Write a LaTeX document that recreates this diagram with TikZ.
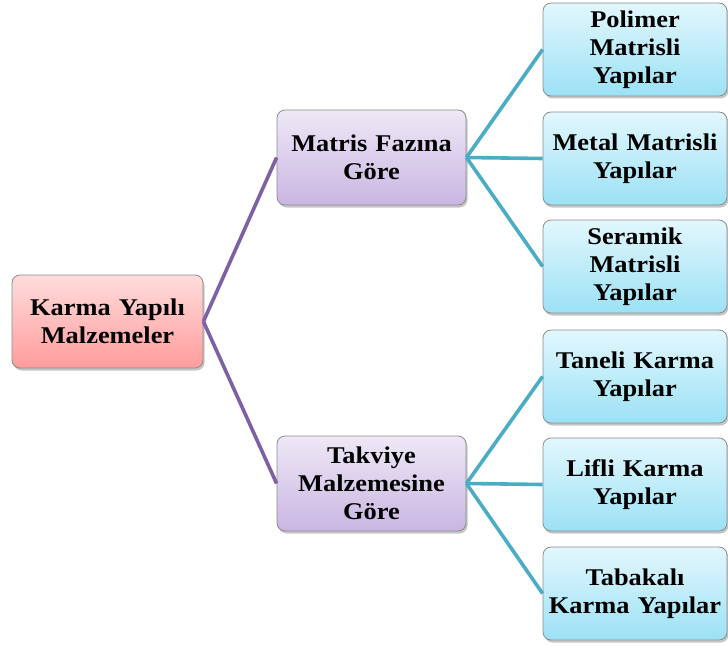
\documentclass[tikz,border=0pt]{standalone}
\usepackage{fontspec}
\setmainfont{Liberation Serif}
\newfontfamily\boxfont[FakeStretch=1.1,WordSpace=0.75]{Liberation Serif}
\usetikzlibrary{shadows}
\definecolor{pinkT}{HTML}{FFDCDC}
\definecolor{pinkB}{HTML}{FF9C9C}
\definecolor{lavT}{HTML}{EEE8F6}
\definecolor{lavB}{HTML}{C9B6E2}
\definecolor{cyT}{HTML}{E2F7FD}
\definecolor{cyB}{HTML}{9CE1F5}
\definecolor{purpleLine}{HTML}{7D61A3}
\definecolor{tealLine}{HTML}{4BACC6}
\definecolor{boxEdge}{HTML}{8C8C8C}
\tikzset{
  box/.style={draw=boxEdge, line width=0.8pt, rounded corners=8pt, align=center,
    font=\boxfont\bfseries\fontsize{24}{28}\selectfont, inner sep=0pt,
    drop shadow={shadow xshift=1.5pt, shadow yshift=-2.5pt, fill=black!45, opacity=0.5}},
  rootbox/.style={box, top color=pinkT, bottom color=pinkB, minimum width=191pt, minimum height=93pt, text width=189pt},
  midbox/.style={box, top color=lavT, bottom color=lavB, minimum width=189pt, minimum height=95pt, text width=187pt},
  leafbox/.style={box, top color=cyT, bottom color=cyB, minimum width=184pt, minimum height=93pt, text width=182pt},
  plink/.style={draw=purpleLine, line width=3.6pt},
  tlink/.style={draw=tealLine, line width=3.6pt}
}
\begin{document}
\begin{tikzpicture}[x=1pt,y=-1pt]
\useasboundingbox (0,0) rectangle (728,650);
\node[rootbox] (root) at (107.5,321.5) {Karma Yapılı\\Malzemeler};
\node[midbox] (m1) at (371.5,157.5) {Matris Fazına\\Göre};
\node[midbox] (m2) at (371.5,483.5) {Takviye\\Malzemesine\\Göre};
\node[leafbox] (l1) at (635,49.5) {Polimer\\Matrisli\\Yapılar};
\node[leafbox] (l2) at (635,158.5) {Metal Matrisli\\Yapılar};
\node[leafbox] (l3) at (635,266.5) {Seramik\\Matrisli\\Yapılar};
\node[leafbox] (l4) at (635,376.5) {Taneli Karma\\Yapılar};
\node[leafbox] (l5) at (635,484.5) {Lifli Karma\\Yapılar};
\node[leafbox] (l6) at (635,593.5) {Tabakalı\\Karma Yapılar};
\path[plink] (root.east) -- (m1.west);
\path[plink] (root.east) -- (m2.west);
\foreach \l in {l1,l2,l3} \path[tlink] (m1.east) -- (\l.west);
\foreach \l in {l4,l5,l6} \path[tlink] (m2.east) -- (\l.west);
\end{tikzpicture}
\end{document}
